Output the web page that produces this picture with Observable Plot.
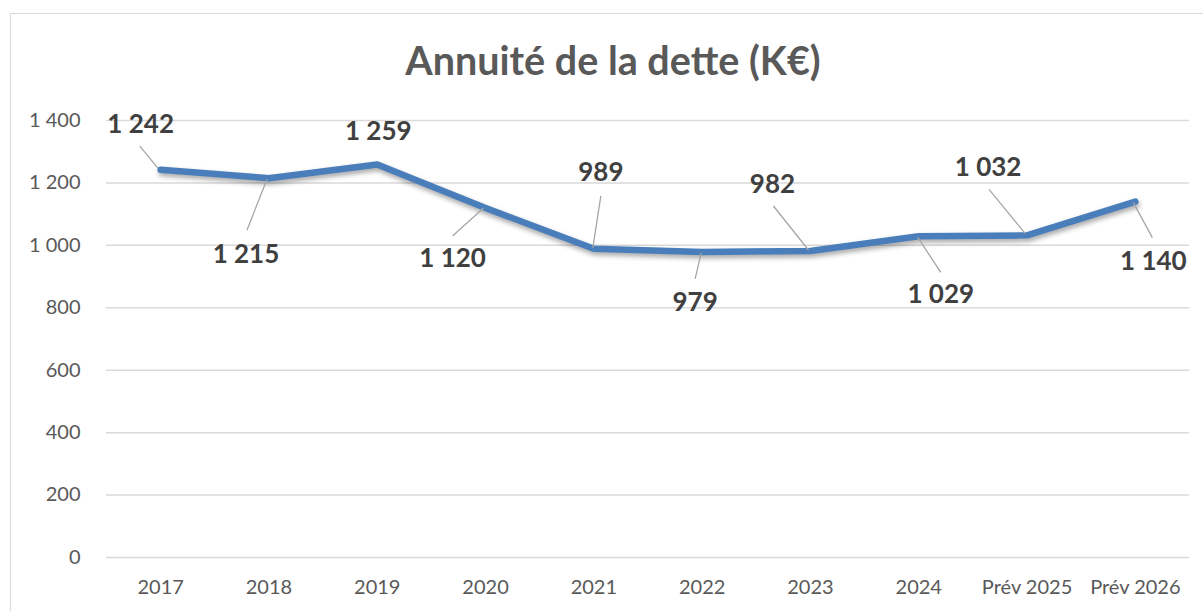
<!DOCTYPE html>
<html><head><meta charset="utf-8">
<script src="https://cdn.jsdelivr.net/npm/d3@7"></script>
<script src="https://cdn.jsdelivr.net/npm/@observablehq/plot@0.6"></script>
<style>
html,body{margin:0;padding:0;background:#fff;overflow:hidden;}
#frame{position:absolute;left:10px;top:13px;width:1206px;height:640px;border:1.5px solid #d9d9d9;box-sizing:border-box;}
#title{position:relative;height:100px;width:1226px;}
#title span{position:absolute;left:0;top:40px;width:100%;text-align:center;font:bold 39.5px/39.5px Lato, "Open Sans", sans-serif;color:#595959;}
#chart{position:relative;}
</style></head><body>
<div id="frame"></div>
<div id="title"><span>Annuité de la dette (K€)</span></div>
<div id="chart"></div>
<script>
// ---- data ----
const categories = ["2017","2018","2019","2020","2021","2022","2023","2024","Prév 2025","Prév 2026"];
const values = [1242, 1215, 1259, 1120, 989, 979, 982, 1029, 1032, 1140];
const yTicks = [0, 200, 400, 600, 800, 1000, 1200, 1400];

// ---- label layout (pixel offsets from each point): label centre, leader start, leader end ----
const labelOffsets = [
  [-20, -45, -21, -24, -3, -2],
  [-23, 76, -22, 52, -2, 1],
  [1, -33, null, null, null, null],
  [-33, 51, -33, 28, -2, 0],
  [7, -76, 7, -53, -1, -1],
  [-7, 51, -7, 27, -1, 1],
  [-38, -66, -37, -45, -2, -1],
  [22, 58, 22, 36, -1, 1],
  [-39, -68, -38, -46, -2, -2],
  [18, 60, 17, 36, -2, 1]
];

const W = 1203, H = 511;
const ml = 106, mr = 14, mt = 20, mb = 54;
const yMax = 1400;
const stepPx = (W - ml - mr) / categories.length;
const unitPx = (H - mt - mb) / yMax;
const fmt = v => d3.format(",")(v).replace(/,/g, " ");

const data = categories.map((c, i) => ({i, cat: c, v: values[i]}));
const leaders = data
  .map((d, i) => ({...d, o: labelOffsets[i]}))
  .filter(d => d.o[2] !== null);

const labelMarks = data.map((d, i) => Plot.text([d], {
  x: "i", y: "v", text: e => fmt(e.v),
  dx: labelOffsets[i][0], dy: labelOffsets[i][1],
  textAnchor: "middle", lineAnchor: "middle",
  fontWeight: "bold", fontSize: 26, fill: "#404040"
}));

const chart = Plot.plot({
  width: W, height: H,
  marginLeft: ml, marginRight: mr, marginTop: mt, marginBottom: mb,
  style: {fontFamily: "Lato, 'Open Sans', sans-serif", fontSize: "20px", color: "#595959", background: "transparent", overflow: "visible"},
  x: {type: "linear", domain: [-0.5, categories.length - 0.5], axis: null},
  y: {domain: [0, yMax], axis: null},
  marks: [
    Plot.gridY(yTicks, {stroke: "#d9d9d9", strokeOpacity: 1, strokeWidth: 1.5}),
    Plot.axisY(yTicks, {label: null, tickSize: 0, tickPadding: 26, tickFormat: fmt, fontSize: 20, fill: "#595959"}),
    Plot.axisX(d3.range(categories.length), {label: null, tickSize: 0, tickPadding: 22, tickFormat: i => categories[i], fontSize: 20, fill: "#595959"}),
    Plot.line(data, {x: "i", y: "v", stroke: "#4a7ebb", strokeWidth: 6.5, strokeLinejoin: "round", strokeLinecap: "round",
      imageFilter: "drop-shadow(1.5px 3px 2.5px rgba(0,0,0,0.35))"}),
    Plot.link(leaders, {
      x1: d => d.i + d.o[2] / stepPx, y1: d => d.v - d.o[3] / unitPx,
      x2: d => d.i + d.o[4] / stepPx, y2: d => d.v - d.o[5] / unitPx,
      stroke: "#a6a6a6", strokeWidth: 1.3
    }),
    ...labelMarks
  ]
});
document.getElementById("chart").appendChild(chart);
</script>
</body></html>
